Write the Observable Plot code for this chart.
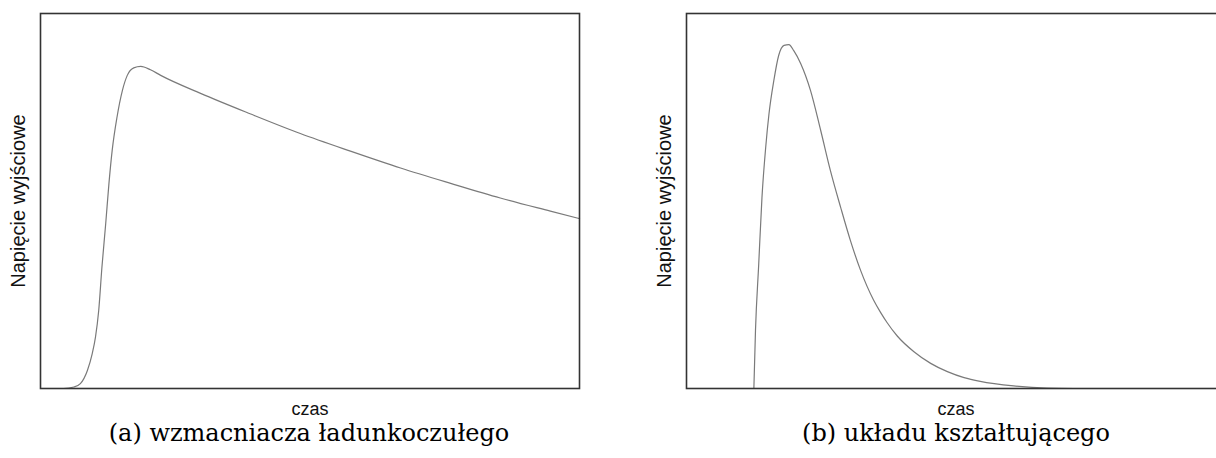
<!DOCTYPE html>
<html>
<head>
<meta charset="utf-8">
<script src="https://cdn.jsdelivr.net/npm/d3@7"></script>
<script src="https://cdn.jsdelivr.net/npm/@observablehq/plot@0.6"></script>
<style>
  html, body { margin: 0; padding: 0; background: #fff; overflow: hidden; }
  #wrap { position: relative; width: 1216px; height: 458px; overflow: hidden; }
  .panel { position: absolute; top: 0; width: 620px; height: 422px; }
  .panel svg { max-width: none !important; }
  .cap { position: absolute; font-family: "DejaVu Serif", serif; font-size: 24px; color: #000; white-space: nowrap; transform: translateX(-50%); line-height: 28px; }
</style>
</head>
<body>
<div id="wrap">
  <div class="panel" id="pa" style="left:0px"></div>
  <div class="panel" id="pb" style="left:646px"></div>
  <div class="cap" style="left:309px; top:419px">(a) wzmacniacza ładunkoczułego</div>
  <div class="cap" style="left:956px; top:419px">(b) układu kształtującego</div>
</div>
<script>
// Panel (a): charge amplifier output — time (arbitrary units, 0..100), voltage (% of full scale)
const timeA = [0, 3.7, 4.3, 6.2, 7.4, 8.7, 9.6, 10.2, 10.8, 11.4, 12.1, 12.7, 13.3, 14.2, 15.2, 16.1, 17.3, 18.6, 20.4, 22.3, 29.7, 39.0, 48.2, 57.5, 66.8, 76.1, 85.3, 94.6, 100];
const voltA = [0, 0, 0, 0.4, 1.3, 4.8, 9.3, 13.7, 20.8, 32.4, 44.0, 54.7, 63.5, 72.4, 79.5, 83.5, 85.5, 85.9, 85.0, 83.5, 78.7, 73.2, 68.0, 63.3, 58.8, 54.7, 50.8, 47.3, 45.3];

// Panel (b): shaping circuit output
const timeB = [12.5, 12.8, 13.4, 14.0, 14.7, 15.3, 16.2, 17.1, 18.1, 19.0, 19.9, 21.2, 23.0, 24.9, 26.7, 28.6, 30.4, 32.3, 34.7, 36.0, 37.2, 39.1, 42.2, 45.3, 48.4, 51.5, 54.5, 60.7, 66.9, 71.8];
const voltB = [0, 15.5, 33.2, 50.9, 64.4, 73.2, 82.1, 88.8, 91.5, 91.7, 90.1, 86.6, 79.5, 68.8, 58.1, 48.3, 39.5, 31.5, 23.6, 20.3, 17.6, 14.0, 9.8, 6.7, 4.5, 2.9, 1.9, 0.7, 0.1, 0];

const xLabel = "czas";
const yLabel = "Napięcie wyjściowe";

function panel(times, volts) {
  const data = times.map((t, i) => ({t, v: volts[i]}));
  return Plot.plot({
    width: 620,
    height: 422,
    marginLeft: 40,
    marginRight: 41,
    marginTop: 13,
    marginBottom: 34,
    style: {fontFamily: "'Liberation Sans', Arial, sans-serif", fontSize: "18px", background: "transparent", maxWidth: "none"},
    x: {domain: [0, 100], axis: null},
    y: {domain: [0, 100], axis: null},
    marks: [
      Plot.line(data, {x: "t", y: "v", stroke: "#7a7a7a", strokeWidth: 1.2, curve: "monotone-x"}),
      Plot.frame({stroke: "#333", strokeWidth: 1.6}),
      Plot.text([xLabel], {frameAnchor: "bottom", dy: 21, fontSize: 18, fill: "#111", lineAnchor: "middle", textAnchor: "middle"}),
      Plot.text([yLabel], {frameAnchor: "left", dx: -22, rotate: -90, fontSize: 20, fill: "#111", lineAnchor: "middle", textAnchor: "middle"})
    ]
  });
}

document.getElementById("pa").appendChild(panel(timeA, voltA));
document.getElementById("pb").appendChild(panel(timeB, voltB));
</script>
</body>
</html>
